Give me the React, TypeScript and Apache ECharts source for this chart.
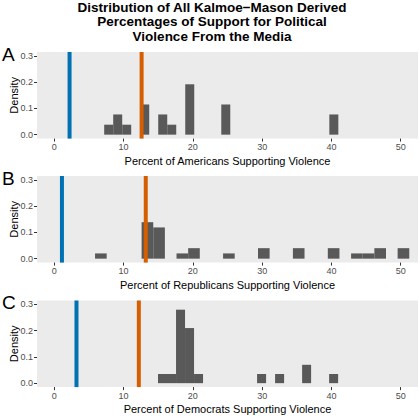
import React, { useEffect, useRef } from "react";
import * as echarts from "echarts";

const titleLines = [
  "Distribution of All Kalmoe\u2212Mason Derived",
  "Percentages of Support for Political",
  "Violence From the Media",
];
const panelLetters = ["A", "B", "C"];
const xTitles = [
  "Percent of Americans Supporting Violence",
  "Percent of Republicans Supporting Violence",
  "Percent of Democrats Supporting Violence",
];
const xTicks = [0, 10, 20, 30, 40, 50];
const yTicks = [0, 0.1, 0.2, 0.3];

// Panel A (Americans)
const binWidthA = 1.3;
const binStartsA = [7.2, 8.5, 9.8, 12.4, 15.0, 16.3, 18.9, 24.1, 39.7];
const densityA = [0.038, 0.077, 0.038, 0.115, 0.077, 0.038, 0.192, 0.115, 0.077];
const blueA = 2.2;
const orangeA = 12.6;

// Panel B (Republicans)
const binWidthB = 1.68;
const binStartsB = [5.88, 12.6, 14.28, 17.64, 19.32, 24.36, 29.4, 34.44, 39.48, 42.84, 44.52, 46.2, 49.56];
const densityB = [0.02, 0.139, 0.119, 0.02, 0.04, 0.02, 0.04, 0.04, 0.04, 0.02, 0.02, 0.04, 0.04];
const blueB = 1.1;
const orangeB = 13.2;

// Panel C (Democrats)
const binWidthC = 1.3;
const binStartsC = [14.97, 16.27, 17.57, 18.87, 20.17, 29.27, 31.87, 35.77, 39.67];
const densityC = [0.035, 0.035, 0.28, 0.21, 0.035, 0.035, 0.035, 0.07, 0.035];
const blueC = 3.2;
const orangeC = 12.2;

const panels = [
  { w: binWidthA, starts: binStartsA, dens: densityA, blue: blueA, orange: orangeA },
  { w: binWidthB, starts: binStartsB, dens: densityB, blue: blueB, orange: orangeB },
  { w: binWidthC, starts: binStartsC, dens: densityC, blue: blueC, orange: orangeC },
];

const FONT = "Liberation Sans, Arial, sans-serif";
const gridTops = [52, 176, 300.5];
const gridH = 86.6;
const BLUE = "#0072B2";
const ORANGE = "#D55E00";

export default function App() {
  const ref = useRef<HTMLDivElement>(null);
  useEffect(() => {
    if (!ref.current) return;
    const chart = echarts.init(ref.current, undefined, { renderer: "svg" });

    const grids = gridTops.map((t) => ({
      left: 37,
      top: t,
      width: 381,
      height: gridH,
      show: true,
      containLabel: false,
      outerBoundsMode: "none",
      backgroundColor: "#EBEBEB",
      borderWidth: 0,
    }));

    const xAxes = gridTops.map((_, i) => ({
      type: "value",
      gridIndex: i,
      position: "bottom",
      min: -2.5,
      max: 52.5,
      name: xTitles[i],
      nameLocation: "middle",
      nameGap: 16.5,
      nameMoveOverlap: false,
      nameTextStyle: { fontSize: 11, color: "#000", fontFamily: FONT },
      axisLine: { show: false, onZero: false },
      splitLine: { show: false },
      axisTick: { show: true, length: 3, lineStyle: { color: "#333333" }, customValues: xTicks },
      axisLabel: {
        show: true,
        fontSize: 9,
        color: "#4D4D4D",
        fontFamily: FONT,
        margin: 4,
        customValues: xTicks,
      },
    }));

    const yAxes = gridTops.map((_, i) => ({
      type: "value",
      gridIndex: i,
      position: "left",
      min: -0.015,
      max: 0.315,
      name: "Density",
      nameLocation: "middle",
      nameGap: 18,
      nameMoveOverlap: false,
      nameTextStyle: { fontSize: 11, color: "#000", fontFamily: FONT },
      axisLine: { show: false, onZero: false },
      splitLine: { show: false },
      axisTick: { show: true, length: 3, lineStyle: { color: "#333333" }, customValues: yTicks },
      axisLabel: {
        show: true,
        fontSize: 9,
        color: "#4D4D4D",
        fontFamily: FONT,
        margin: 4,
        customValues: yTicks,
        formatter: (v: number) => v.toFixed(1),
      },
    }));

    const series: any[] = [];
    panels.forEach((p, i) => {
      series.push({
        type: "custom",
        xAxisIndex: i,
        yAxisIndex: i,
        encode: { x: [0, 1], y: 2 },
        data: p.starts.map((s, k) => [s, s + p.w, p.dens[k]]),
        renderItem: (params: any, api: any) => {
          const p0 = api.coord([api.value(0), api.value(2)]);
          const p1 = api.coord([api.value(1), 0]);
          return {
            type: "rect",
            shape: { x: p0[0], y: p0[1], width: p1[0] - p0[0], height: p1[1] - p0[1] },
            style: { fill: "#595959" },
          };
        },
      });
      [
        { v: p.blue, c: BLUE },
        { v: p.orange, c: ORANGE },
      ].forEach((ln) => {
        series.push({
          type: "custom",
          xAxisIndex: i,
          yAxisIndex: i,
          encode: { x: 0, y: 1 },
          z: 5,
          data: [[ln.v, 0]],
          renderItem: (params: any, api: any) => {
            const pt = api.coord([api.value(0), 0]);
            const cs = params.coordSys;
            return {
              type: "line",
              shape: { x1: pt[0], y1: cs.y, x2: pt[0], y2: cs.y + cs.height },
              style: { stroke: ln.c, lineWidth: 4 },
            };
          },
        });
      });
    });

    const letterY = [54, 178.6, 302.7];
    const graphic: any[] = [
      {
        type: "text",
        x: 212,
        y: 0,
        style: {
          text: titleLines.join("\n"),
          textAlign: "center",
          textVerticalAlign: "top",
          fontSize: 13.5,
          fontWeight: "bold",
          fontFamily: FONT,
          lineHeight: 14.5,
          fill: "#000",
        },
      },
      ...panelLetters.map((l, i) => ({
        type: "text",
        x: 2,
        y: letterY[i],
        style: {
          text: l,
          textVerticalAlign: "middle",
          fontSize: 19,
          fontFamily: FONT,
          fill: "#000",
        },
      })),
    ];

    chart.setOption({
      animation: false,
      backgroundColor: "#FFFFFF",
      grid: grids,
      xAxis: xAxes,
      yAxis: yAxes,
      series,
      graphic,
    } as any);
    return () => chart.dispose();
  }, []);
  return (
    <div
      ref={ref}
      style={{ position: "fixed", left: 0, top: 0, width: 420, height: 420 }}
    />
  );
}
